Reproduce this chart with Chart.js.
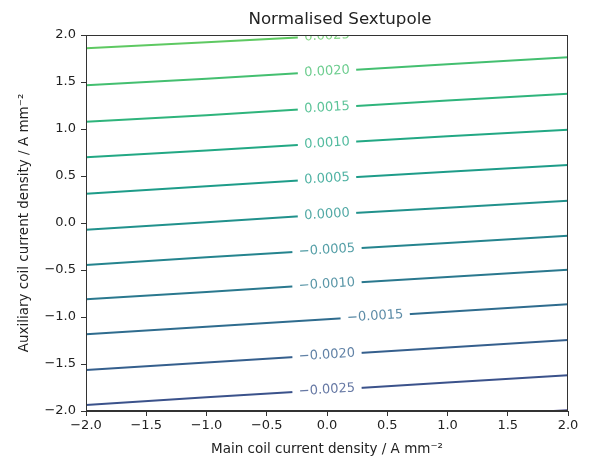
<!DOCTYPE html>
<html>
<head>
<meta charset="utf-8">
<script src="https://cdn.jsdelivr.net/npm/chart.js@4.4.1/dist/chart.umd.min.js"></script>
<style>
  html, body { margin: 0; padding: 0; background: #fff; }
  #wrap { width: 608px; height: 460px; }
</style>
</head>
<body>
<div id="wrap"><canvas id="c" width="608" height="460"></canvas></div>
<script>
// ---- data ----
const chartTitle = 'Normalised Sextupole';
const xGrid = [-2, -1, 0, 1, 2];
const levels = ['0.0025', '0.0020', '0.0015', '0.0010', '0.0005', '0.0000',
                '−0.0005', '−0.0010', '−0.0015', '−0.0020', '−0.0025'];
const lineYs = [
  [1.859, 1.922, 1.990, 2.060, 2.130],
  [1.465, 1.535, 1.612, 1.690, 1.763],
  [1.078, 1.146, 1.225, 1.302, 1.376],
  [0.699, 0.770, 0.848, 0.922, 0.993],
  [0.312, 0.390, 0.470, 0.545, 0.617],
  [-0.071, 0.008, 0.090, 0.163, 0.237],
  [-0.447, -0.365, -0.288, -0.212, -0.135],
  [-0.812, -0.733, -0.652, -0.575, -0.497],
  [-1.184, -1.105, -1.025, -0.945, -0.865],
  [-1.564, -1.483, -1.404, -1.324, -1.245],
  [-1.936, -1.855, -1.776, -1.698, -1.620]
];
const labelXs = [0, 0, 0, 0, 0, 0, 0, 0, 0.4, 0, 0];
// lowest level (-0.0030) only touches the bottom-right corner
const cornerX = [1.88, 2.0];
const cornerY = [-2.0, -1.992];
const xTicks = [-2, -1.5, -1, -0.5, 0, 0.5, 1, 1.5, 2];
const yTicks = [-2, -1.5, -1, -0.5, 0, 0.5, 1, 1.5, 2];

// ---- styling (viridis samples) ----
const levelColors = ['#5ec962', '#44bf70', '#2fb47c', '#22a884', '#1e9c89', '#21918c',
                     '#25848e', '#2a788e', '#2f6c8e', '#355f8d', '#3b528b'];
const cornerColor = '#414487';

Chart.defaults.font.family = '"DejaVu Sans", sans-serif';
Chart.defaults.color = '#222';

const fmt = v => (v < 0 ? '\u2212' : '') + Math.abs(v).toFixed(1);

const datasets = levels.map((lab, i) => ({
  label: lab,
  data: xGrid.map((x, j) => ({ x: x, y: lineYs[i][j] })),
  borderColor: levelColors[i],
  borderWidth: 2,
  pointRadius: 0,
  tension: 0,
  fill: false,
  labelX: labelXs[i],
  labelText: lab,
  labelColor: levelColors[i]
}));
datasets.push({
  label: '−0.0030',
  data: cornerX.map((x, j) => ({ x: x, y: cornerY[j] })),
  borderColor: cornerColor,
  borderWidth: 2,
  pointRadius: 0,
  fill: false
});

const contourLabels = {
  id: 'contourLabels',
  afterDatasetsDraw(chart) {
    const { ctx, chartArea: a, scales: { x, y } } = chart;
    ctx.save();
    ctx.beginPath();
    ctx.rect(a.left, a.top, a.right - a.left, a.bottom - a.top);
    ctx.clip();
    ctx.font = '13px "DejaVu Sans"';
    chart.data.datasets.forEach(ds => {
      if (ds.labelX === undefined) return;
      const pts = ds.data;
      let i = 0;
      while (i < pts.length - 2 && pts[i + 1].x < ds.labelX) i++;
      const p0x = x.getPixelForValue(pts[i].x), p0y = y.getPixelForValue(pts[i].y);
      const p1x = x.getPixelForValue(pts[i + 1].x), p1y = y.getPixelForValue(pts[i + 1].y);
      const t = (ds.labelX - pts[i].x) / (pts[i + 1].x - pts[i].x);
      const cx = p0x + t * (p1x - p0x), cy = p0y + t * (p1y - p0y);
      const ang = Math.atan2(p1y - p0y, p1x - p0x);
      const w = ctx.measureText(ds.labelText).width;
      ctx.save();
      ctx.translate(cx, cy);
      ctx.rotate(ang);
      ctx.fillStyle = '#ffffff';
      ctx.fillRect(-w / 2 - 6.5, -5, w + 13, 10);
      ctx.globalAlpha = 0.78;
      ctx.fillStyle = ds.labelColor;
      ctx.textAlign = 'center';
      ctx.textBaseline = 'middle';
      ctx.fillText(ds.labelText, 0, 0);
      ctx.restore();
    });
    ctx.restore();
    // axes frame
    ctx.save();
    ctx.strokeStyle = '#333';
    ctx.lineWidth = 1;
    ctx.strokeRect(Math.round(a.left) + 0.5, Math.round(a.top) + 0.5,
                   Math.round(a.right) - Math.round(a.left) - 1,
                   Math.round(a.bottom) - Math.round(a.top) - 1);
    // title
    ctx.fillStyle = '#222';
    ctx.font = '16.7px "DejaVu Sans"';
    ctx.textAlign = 'center';
    ctx.textBaseline = 'middle';
    ctx.fillText(chartTitle, 340, 19.5);
    ctx.restore();
  }
};

new Chart(document.getElementById('c'), {
  type: 'line',
  data: { datasets: datasets },
  plugins: [contourLabels],
  options: {
    responsive: false,
    animation: false,
    events: [],
    layout: { padding: { top: 35, left: 8, right: 40, bottom: 2 } },
    plugins: {
      legend: { display: false },
      tooltip: { enabled: false },
      title: { display: false }
    },
    scales: {
      x: {
        type: 'linear',
        min: -2, max: 2,
        afterBuildTicks: s => { s.ticks = xTicks.map(v => ({ value: v })); },
        afterFit: s => { s.height = 47; },
        ticks: { callback: fmt, color: '#222', font: { size: 13 }, padding: 2, maxRotation: 0, autoSkip: false },
        grid: { drawOnChartArea: false, drawTicks: true, tickLength: 5, tickColor: '#333' },
        border: { display: true, color: '#333', width: 1 },
        title: {
          display: true,
          text: 'Main coil current density / A mm\u207B\u00B2',
          color: '#222',
          font: { size: 13.5 },
          padding: { top: 0, bottom: 0 }
        }
      },
      y: {
        type: 'linear',
        min: -2, max: 2,
        afterBuildTicks: s => { s.ticks = yTicks.map(v => ({ value: v })); },
        afterFit: s => { s.width = 78; },
        ticks: { callback: fmt, color: '#222', font: { size: 13 }, padding: 5, autoSkip: false },
        grid: { drawOnChartArea: false, drawTicks: true, tickLength: 5, tickColor: '#333' },
        border: { display: true, color: '#333', width: 1 },
        title: {
          display: true,
          text: 'Auxiliary coil current density / A mm\u207B\u00B2',
          color: '#222',
          font: { size: 13.5 },
          padding: { top: 8, bottom: 0 }
        }
      }
    }
  }
});
</script>
</body>
</html>
